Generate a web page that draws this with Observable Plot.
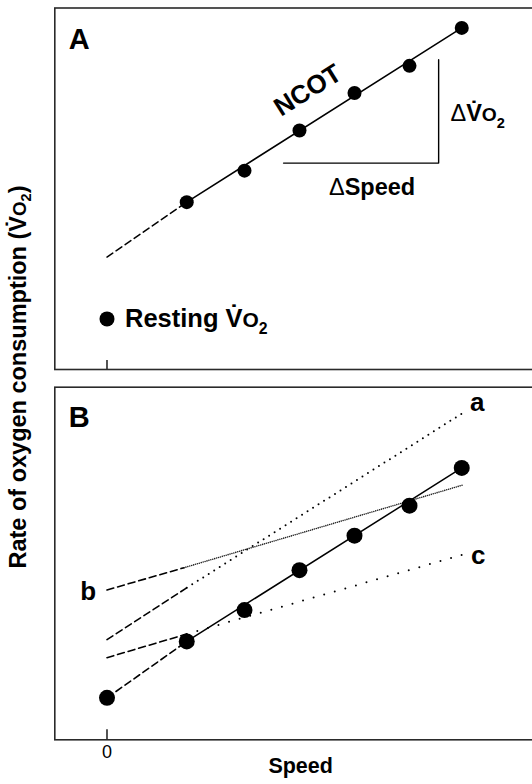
<!DOCTYPE html>
<html>
<head>
<meta charset="utf-8">
<script src="https://cdn.jsdelivr.net/npm/d3@7"></script>
<script src="https://cdn.jsdelivr.net/npm/@observablehq/plot@0.6"></script>
<style>
  html, body { margin: 0; padding: 0; background: #fff; }
  #wrap { position: relative; width: 532px; height: 784px; overflow: hidden; background: #fff;
          font-family: "Liberation Sans", Arial, Helvetica, sans-serif; }
  #panelA { position: absolute; left: 0; top: 0; width: 540px; }
  #panelB { position: absolute; left: 0; top: 378px; width: 540px; }
  #ylab { position: absolute; left: 19px; top: 377px; transform: translate(-50%, -50%) rotate(-90deg);
          white-space: nowrap; font-weight: bold; font-size: 23.5px; color: #000; line-height: 1; }
  #ylab .o { font-size: 0.8em; }
  #ylab sub { font-size: 0.62em; vertical-align: -0.3em; line-height: 0; }
</style>
</head>
<body>
<div id="wrap">
  <div id="panelA"></div>
  <div id="panelB"></div>
  <div id="ylab">Rate of oxygen consumption (V&#775;<span class="o">O</span><sub>2</sub>)</div>
</div>
<script>
// ---------- data (speed in arbitrary units, V̇O2 in arbitrary units 0–10) ----------
const speeds = [1.45, 2.5, 3.5, 4.5, 5.5, 6.45];

// Panel A
const vo2A = [4.63, 5.50, 6.61, 7.65, 8.40, 9.45];
const restingA = [{s: 0, v: 1.40}];
const ncotDashedA = [{s: 0, v: 3.11}, {s: 1.45, v: 4.63}];
const ncotSolidA = [{s: 1.45, v: 4.63}, {s: 6.45, v: 9.45}];
const bracketA = [{s: 3.21, v: 5.71}, {s: 6.03, v: 5.71}, {s: 6.03, v: 8.57}];
const ncotLabel = [{s: 3.65, v: 7.72, text: "NCOT"}];
const dSpeedLabel = [{s: 4.82, v: 5.03, text: "ΔSpeed"}];
const dVO2Label = [{s: 6.245, v: 7.08, text: "ΔV̇O₂"}];
const restingLabel = [{s: 0.327, v: 1.40, text: "Resting V̇O₂"}];

// Panel B
const vo2B = [2.79, 3.68, 4.81, 5.79, 6.64, 7.71];
const restingB = [{s: 0, v: 1.19}];
const dashedB = [{s: 0, v: 1.19}, {s: 1.45, v: 2.79}];
const solidB = [{s: 1.45, v: 2.79}, {s: 6.45, v: 7.71}];
const lineA_dashed = [{s: 0, v: 2.84}, {s: 1.45, v: 4.31}];
const lineA_dotted = [{s: 1.45, v: 4.31}, {s: 6.49, v: 9.29}];
const lineB_dashed = [{s: 0, v: 4.25}, {s: 1.40, v: 4.88}];
const lineB_dotted = [{s: 1.40, v: 4.88}, {s: 6.48, v: 7.23}];
const lineC_dashed = [{s: 0, v: 2.33}, {s: 1.45, v: 3.00}];
const lineC_dotted = [{s: 1.45, v: 3.00}, {s: 6.49, v: 5.26}];
const lineLabels = [
  {s: 6.73, v: 9.57, text: "a"},
  {s: -0.34, v: 4.19, text: "b"},
  {s: 6.75, v: 5.23, text: "c"}
];
const xTicks = [0];

const pointsA = speeds.map((s, i) => ({s, v: vo2A[i]}));
const pointsB = speeds.map((s, i) => ({s, v: vo2B[i]}));

// ---------- rendering ----------
const fontFam = '"Liberation Sans", Arial, Helvetica, sans-serif';
const xDomain = [-0.949, 7.882];
const ink = "#000";
const frameInk = "#2a2a2a";

function enrich(svg) {
  d3.select(svg).selectAll("text").each(function () {
    const t = this.textContent;
    if (!t.includes("V̇O₂") && !t.startsWith("Δ")) return;
    const sel = d3.select(this);
    sel.text(null);
    let rest = t;
    if (rest.startsWith("Δ")) {
      sel.append("tspan").attr("font-weight", "normal").text("Δ");
      rest = rest.slice(1);
    }
    const i = rest.indexOf("V̇O₂");
    if (i < 0) { sel.append("tspan").text(rest); return; }
    sel.append("tspan").text(rest.slice(0, i) + "V̇");
    sel.append("tspan").attr("font-size", "82%").text("O");
    sel.append("tspan").attr("font-size", "62%").attr("dy", "0.45em").text("2");
    const post = rest.slice(i + 4);
    if (post) sel.append("tspan").attr("dy", "-0.3em").text(post);
  });
}

const plotA = Plot.plot({
  width: 540, height: 378,
  marginTop: 7.5, marginBottom: 9, marginLeft: 54.3, marginRight: 0,
  x: {domain: xDomain, axis: null},
  y: {domain: [0, 10], axis: null},
  style: {fontFamily: fontFam, fontSize: "15px", background: "white", color: ink, maxWidth: "none"},
  marks: [
    Plot.frame({stroke: frameInk, strokeWidth: 1.6}),
    Plot.ruleX(xTicks, {insetTop: 352.5, stroke: frameInk, strokeWidth: 1.6}),
    Plot.line(ncotDashedA, {x: "s", y: "v", stroke: ink, strokeWidth: 1.5, strokeDasharray: "7,4"}),
    Plot.line(ncotSolidA, {x: "s", y: "v", stroke: ink, strokeWidth: 1.5}),
    Plot.line(bracketA, {x: "s", y: "v", stroke: ink, strokeWidth: 1.4}),
    Plot.dot(pointsA, {x: "s", y: "v", r: 7, fill: ink}),
    Plot.dot(restingA, {x: "s", y: "v", r: 7.5, fill: ink}),
    Plot.text(["A"], {frameAnchor: "top-left", dx: 14, dy: 20, lineAnchor: "top", textAnchor: "start",
                      text: d => d, fontSize: 29, fontWeight: "bold"}),
    Plot.text(ncotLabel, {x: "s", y: "v", text: "text", rotate: -32, fontSize: 26, fontWeight: "bold"}),
    Plot.text(dSpeedLabel, {x: "s", y: "v", text: "text", fontSize: 23.5, fontWeight: "bold"}),
    Plot.text(dVO2Label, {x: "s", y: "v", text: "text", textAnchor: "start", fontSize: 23.5, fontWeight: "bold"}),
    Plot.text(restingLabel, {x: "s", y: "v", text: "text", textAnchor: "start", fontSize: 25.5, fontWeight: "bold"})
  ]
});
enrich(plotA);
document.getElementById("panelA").appendChild(plotA);

const plotB = Plot.plot({
  width: 540, height: 406,
  marginTop: 8.7, marginBottom: 44.7, marginLeft: 54.3, marginRight: 0,
  x: {domain: xDomain, axis: null},
  y: {domain: [0, 10], axis: null},
  style: {fontFamily: fontFam, fontSize: "15px", background: "white", color: ink, maxWidth: "none"},
  marks: [
    Plot.frame({stroke: frameInk, strokeWidth: 1.6}),
    Plot.ruleX(xTicks, {insetTop: 342.6, stroke: frameInk, strokeWidth: 1.6}),
    Plot.text(xTicks, {x: d => d, frameAnchor: "bottom", dy: 18, text: d => String(d), fontSize: 18}),
    Plot.text(["Speed"], {frameAnchor: "bottom", dx: 3, dy: 33, text: d => d, fontSize: 21.5, fontWeight: "bold"}),
    Plot.line(lineA_dashed, {x: "s", y: "v", stroke: ink, strokeWidth: 1.6, strokeDasharray: "7,4"}),
    Plot.line(lineA_dotted, {x: "s", y: "v", stroke: ink, strokeWidth: 2, strokeDasharray: "0,6.5", strokeLinecap: "round"}),
    Plot.line(lineB_dashed, {x: "s", y: "v", stroke: ink, strokeWidth: 1.6, strokeDasharray: "7,4"}),
    Plot.line(lineB_dotted, {x: "s", y: "v", stroke: "#222", strokeWidth: 1.6, strokeDasharray: "0,2", strokeLinecap: "round"}),
    Plot.line(lineC_dashed, {x: "s", y: "v", stroke: ink, strokeWidth: 1.6, strokeDasharray: "7,4"}),
    Plot.line(lineC_dotted, {x: "s", y: "v", stroke: ink, strokeWidth: 2, strokeDasharray: "0,11", strokeLinecap: "round"}),
    Plot.line(dashedB, {x: "s", y: "v", stroke: ink, strokeWidth: 1.6, strokeDasharray: "7,4"}),
    Plot.line(solidB, {x: "s", y: "v", stroke: ink, strokeWidth: 1.5}),
    Plot.dot(pointsB, {x: "s", y: "v", r: 8, fill: ink}),
    Plot.dot(restingB, {x: "s", y: "v", r: 8, fill: ink}),
    Plot.text(["B"], {frameAnchor: "top-left", dx: 14, dy: 19, lineAnchor: "top", textAnchor: "start",
                      text: d => d, fontSize: 29, fontWeight: "bold"}),
    Plot.text(lineLabels, {x: "s", y: "v", text: "text", fontSize: 26, fontWeight: "bold"})
  ]
});
document.getElementById("panelB").appendChild(plotB);
</script>
</body>
</html>
